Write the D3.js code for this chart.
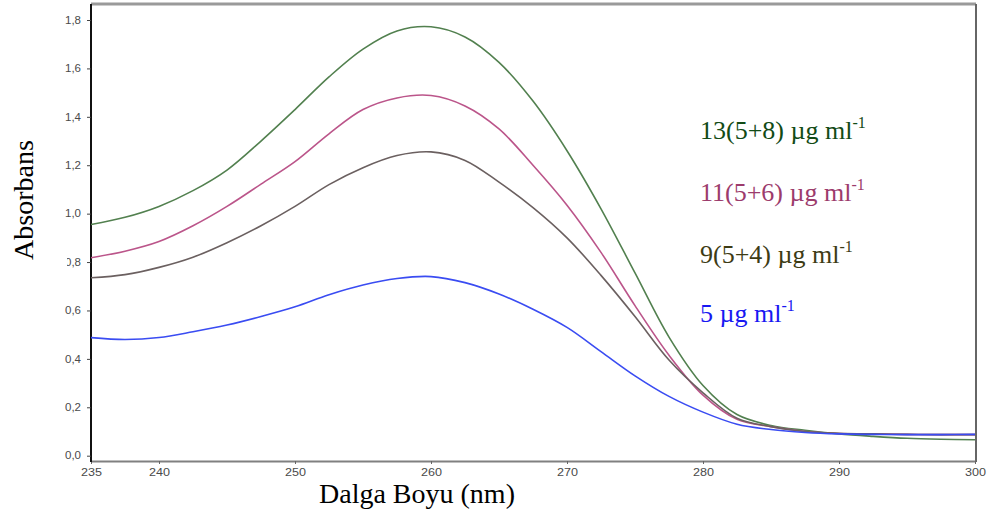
<!DOCTYPE html>
<html>
<head>
<meta charset="utf-8">
<script src="https://cdn.jsdelivr.net/npm/d3@7"></script>
<style>
  body { margin: 0; background: #fff; }
  .tick text { font-family: "Liberation Sans", Arial, sans-serif; fill: #4a4a4a; }
</style>
</head>
<body>
<script>
// wavelength (nm) and absorbance
var wavelengths = [235, 237.5, 240, 242.5, 245, 247.5, 250, 252.5, 255, 257.5, 260, 262.5, 265,
  267.5, 270, 272.5, 275, 277.5, 280, 282.5, 285, 287.5, 290, 292.5, 295, 297.5, 300];

var abs13 = [0.955, 0.985, 1.03, 1.095, 1.18, 1.3, 1.43, 1.565, 1.68, 1.755, 1.772, 1.73, 1.625,
  1.465, 1.26, 1.02, 0.755, 0.49, 0.29, 0.17, 0.125, 0.105, 0.09, 0.08, 0.072, 0.068, 0.066];
var abs11 = [0.818, 0.845, 0.885, 0.95, 1.03, 1.122, 1.215, 1.33, 1.43, 1.478, 1.488, 1.445, 1.35,
  1.2, 1.035, 0.84, 0.62, 0.415, 0.25, 0.15, 0.12, 0.1, 0.092, 0.09, 0.088, 0.087, 0.087];
var abs9 = [0.735, 0.748, 0.778, 0.82, 0.88, 0.95, 1.03, 1.12, 1.19, 1.24, 1.255, 1.22, 1.13,
  1.025, 0.9, 0.745, 0.575, 0.395, 0.26, 0.155, 0.12, 0.1, 0.093, 0.09, 0.088, 0.087, 0.087];
var abs5 = [0.488, 0.48, 0.488, 0.512, 0.54, 0.575, 0.615, 0.665, 0.705, 0.732, 0.74, 0.715, 0.668,
  0.605, 0.53, 0.43, 0.33, 0.245, 0.18, 0.13, 0.108, 0.096, 0.09, 0.088, 0.087, 0.087, 0.088];

var xTicks = [235, 240, 250, 260, 270, 280, 290, 300];
var yTicks = [0, 0.2, 0.4, 0.6, 0.8, 1.0, 1.2, 1.4, 1.6, 1.8];

var legendLabels = ["13(5+8) µg ml", "11(5+6) µg ml", "9(5+4) µg ml", "5 µg ml"];

var width = 989,
  height = 515;

// plot box edges (note: "top" is taken by window.top)
var plotLeft = 91,
  plotRight = 975,
  plotTop = 4,
  plotBottom = 461;

var x = d3.scaleLinear().domain([235, 300]).range([plotLeft, plotRight]);
var y = d3.scaleLinear().domain([0, 1.8]).range([455.7, 20]);

var svg = d3
  .select("body")
  .append("svg")
  .attr("width", width)
  .attr("height", height);

svg.append("clipPath")
  .attr("id", "plot")
  .append("rect")
  .attr("x", plotLeft)
  .attr("y", plotTop)
  .attr("width", plotRight - plotLeft)
  .attr("height", plotBottom - plotTop);

// frame: gray top / right, axes below
svg.append("line").attr("x1", plotLeft).attr("x2", plotRight + 1).attr("y1", plotTop).attr("y2", plotTop)
  .attr("stroke", "#9a9a9a").attr("stroke-width", 3);
svg.append("line").attr("x1", plotRight + 1).attr("x2", plotRight + 1).attr("y1", plotTop).attr("y2", plotBottom + 1)
  .attr("stroke", "#666").attr("stroke-width", 2);

// x axis
var xAxis = svg.append("g")
  .attr("transform", "translate(0," + plotBottom + ")")
  .call(d3.axisBottom(x).tickValues(xTicks).tickSize(3).tickPadding(5).tickSizeOuter(0)
    .tickFormat(d3.format("d")));
xAxis.select(".domain").attr("stroke", "#808080").attr("stroke-width", 2);
xAxis.selectAll(".tick line").attr("stroke", "#666");
xAxis.selectAll(".tick text")
  .attr("font-size", 10)
  .attr("textLength", 21)
  .attr("lengthAdjust", "spacingAndGlyphs");

// y axis
var yAxis = svg.append("g")
  .attr("transform", "translate(" + plotLeft + ",0)")
  .call(d3.axisLeft(y).tickValues(yTicks).tickSize(4).tickPadding(6).tickSizeOuter(0)
    .tickFormat(function(d) { return d3.format(".1f")(d).replace(".", ","); }));
yAxis.select(".domain").attr("d", "M0," + plotTop + "V" + (plotBottom + 1))
  .attr("stroke", "#111").attr("stroke-width", 2);
yAxis.selectAll(".tick line").attr("stroke", "#444");
yAxis.selectAll(".tick text")
  .attr("font-size", 10)
  .attr("textLength", 16)
  .attr("lengthAdjust", "spacingAndGlyphs");

// spectra
var series = [
  { values: abs13, color: "#52804f" },
  { values: abs11, color: "#bb558a" },
  { values: abs9, color: "#6b6060" },
  { values: abs5, color: "#3a4cf2" }
];

var line = d3.line()
  .x(function(d, i) { return x(wavelengths[i]); })
  .y(function(d) { return y(d); })
  .curve(d3.curveCatmullRom.alpha(0.5));

svg.append("g")
  .attr("clip-path", "url(#plot)")
  .selectAll("path")
  .data(series)
  .enter()
  .append("path")
  .attr("fill", "none")
  .attr("stroke", function(d) { return d.color; })
  .attr("stroke-width", 1.6)
  .attr("d", function(d) { return line(d.values); });

// legend
var legendColors = ["#124b16", "#9c3b6c", "#3d3b14", "#1818f2"];
var legendY = [139, 201, 263, 322];

var legend = svg.append("g")
  .attr("font-family", "'Liberation Serif', 'Times New Roman', serif")
  .attr("font-size", 26);

legendLabels.forEach(function(lbl, i) {
  var t = legend.append("text")
    .attr("x", 700)
    .attr("y", legendY[i])
    .attr("fill", legendColors[i]);
  t.append("tspan").text(lbl);
  t.append("tspan").attr("font-size", 16).attr("dy", -11).text("-1");
});

// the y title's white box hides the left of the 0,8 label in the original
svg.append("rect").attr("x", 0).attr("y", 252).attr("width", 67).attr("height", 14).attr("fill", "#fff");

svg.append("text")
  .attr("transform", "translate(33,200) rotate(-90)")
  .attr("text-anchor", "middle")
  .attr("font-family", "'Liberation Serif', 'Times New Roman', serif")
  .attr("font-size", 28)
  .text("Absorbans");

svg.append("text")
  .attr("x", 417)
  .attr("y", 503)
  .attr("text-anchor", "middle")
  .attr("font-family", "'Liberation Serif', 'Times New Roman', serif")
  .attr("font-size", 28)
  .text("Dalga Boyu (nm)");
</script>
</body>
</html>
